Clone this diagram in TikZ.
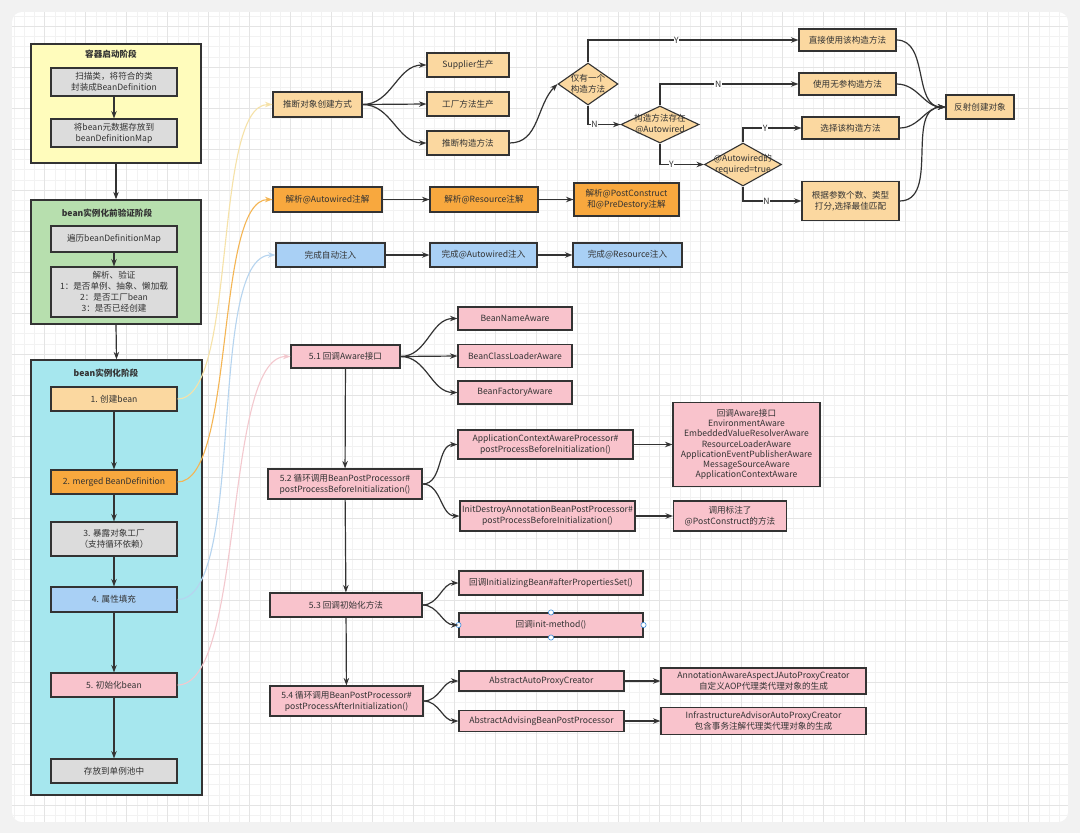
\documentclass[tikz,border=0pt]{standalone}
\usepackage{fontspec}
\setmainfont{Noto Sans CJK SC}
\usepackage{tikz}
\usetikzlibrary{positioning,arrows.meta,shapes.geometric}
\definecolor{ink}{HTML}{333333}
\definecolor{pagebg}{HTML}{F2F2F2}
\definecolor{gridfine}{HTML}{F2F2F2}
\definecolor{gridbold}{HTML}{E4E4E4}
\definecolor{stageyel}{HTML}{FFFCBC}
\definecolor{stagegrn}{HTML}{B7DFAE}
\definecolor{stagecyan}{HTML}{A6E7EE}
\definecolor{cgrey}{HTML}{DCDCDC}
\definecolor{cpeach}{HTML}{FBD8A0}
\definecolor{corange}{HTML}{F8A83E}
\definecolor{cblue}{HTML}{A9D0F5}
\definecolor{cpink}{HTML}{F9C3CC}
\definecolor{linkyel}{HTML}{F6E2A8}
\definecolor{linkorg}{HTML}{F4B553}
\definecolor{linkblu}{HTML}{B6D4EF}
\definecolor{linkpnk}{HTML}{F3C8CE}
\definecolor{chandle}{HTML}{3D8BD9}

\begin{document}
\begin{tikzpicture}[x=1pt,y=-1pt,
  font=\fontsize{8.6}{11}\selectfont,
  box/.style={draw=ink,line width=1.1pt,align=center,inner sep=1pt,text=ink},
  stage/.style={box,line width=1.3pt},
  greybox/.style={box,fill=cgrey},
  peachbox/.style={box,fill=cpeach},
  orangebox/.style={box,fill=corange},
  bluebox/.style={box,fill=cblue},
  pinkbox/.style={box,fill=cpink},
  dia/.style={shape=diamond,draw=ink,line width=1.1pt,fill=cpeach,inner sep=0pt},
  title/.style={font=\fontsize{8.6}{11}\selectfont\bfseries,text=ink},
  arr/.style={-{Stealth[length=7.5pt,width=5.5pt]},line width=1.2pt,draw=ink},
  link/.style={-{Stealth[length=7.5pt,width=5.5pt]},line width=1.1pt,out=0,in=180,looseness=0.5},
  yn/.style={fill=white,inner sep=0.6pt,text=ink}]
  \useasboundingbox (0,0) rectangle (1080,833);
  % page and grid
  \fill[pagebg] (0,0) rectangle (1080,833);
  \fill[black!5,rounded corners=11pt] (10,11) rectangle (1071,825);
  \begin{scope}
    \clip[rounded corners=10pt] (12,12) rectangle (1068,822);
    \fill[white] (12,12) rectangle (1068,822);
    \foreach \gx in {0,...,104} \draw[gridfine,line width=0.5pt] ({3.7+10.25*\gx},12) -- ++(0,810);
    \foreach \gy in {0,...,79} \draw[gridfine,line width=0.5pt] (12,{5.5+10.25*\gy}) -- ++(1056,0);
    \foreach \gx in {0,...,26} \draw[gridbold,line width=0.6pt] ({3.7+41*\gx},12) -- ++(0,810);
    \foreach \gy in {0,...,21} \draw[gridbold,line width=0.6pt] (12,{-15+41*\gy}) -- ++(1056,0);
  \end{scope}

  % left column: the three stages
  \node[stage,fill=stageyel,minimum width=170pt,minimum height=119pt] (start) at (116,103.5) {};
  \node[title] (startT) at (111,54) {容器启动阶段};
  \node[greybox,minimum width=126pt,minimum height=28pt] (scan) at (114,82) {扫描类，将符合的类\\封装成BeanDefinition};
  \node[greybox,minimum width=126pt,minimum height=28pt] (store) at (114,133) {将bean元数据存放到\\beanDefinitionMap};
  \node[stage,fill=stagegrn,minimum width=170pt,minimum height=124pt] (check) at (116,262) {};
  \node[title] (checkT) at (107,213) {bean实例化前验证阶段};
  \node[greybox,minimum width=126pt,minimum height=26pt] (walk) at (114,239) {遍历beanDefinitionMap};
  \node[greybox,minimum width=126pt,minimum height=50pt] (verify) at (114,292) {解析、验证\\1：是否单例、抽象、懒加载\\2：是否工厂bean\\3：是否已经创建};
  \node[stage,fill=stagecyan,minimum width=171pt,minimum height=435pt] (inst) at (116.5,577.5) {};
  \node[title] (instT) at (106,373) {bean实例化阶段};
  \node[peachbox,minimum width=126pt,minimum height=24pt] (create) at (114,399) {1. 创建bean};
  \node[orangebox,minimum width=126pt,minimum height=24pt] (merge) at (114,482) {2. merged BeanDefinition};
  \node[greybox,minimum width=126pt,minimum height=34pt] (expose) at (114,539) {3. 暴露对象工厂\\（支持循环依赖）};
  \node[bluebox,minimum width=126pt,minimum height=25pt] (populate) at (114,599.5) {4. 属性填充};
  \node[pinkbox,minimum width=126pt,minimum height=24pt] (init) at (114,685) {5. 初始化bean};
  \node[greybox,minimum width=126pt,minimum height=24pt] (pool) at (114,771) {存放到单例池中};

  % 1. create bean
  \node[peachbox,minimum width=89pt,minimum height=25pt] (infer) at (317.5,104.5) {推断对象创建方式};
  \node[peachbox,minimum width=82pt,minimum height=24pt] (supplier) at (468,65) {Supplier生产};
  \node[peachbox,minimum width=82pt,minimum height=24pt] (factory) at (468,104) {工厂方法生产};
  \node[peachbox,minimum width=82pt,minimum height=24pt] (ctor) at (468,143) {推断构造方法};
  \node[dia,minimum width=60pt,minimum height=42pt] (only) at (588,84) {};
  \node[align=center,text=ink] (onlyT) at (only) {仅有一个\\构造方法};
  \node[dia,minimum width=78pt,minimum height=37pt] (hasAuto) at (660,124.5) {};
  \node[align=center,text=ink] (hasAutoT) at (hasAuto) {构造方法存在\\@Autowired};
  \node[dia,minimum width=77pt,minimum height=43pt] (req) at (743,164.5) {};
  \node[align=center,text=ink] (reqT) at (req) {@Autowired的\\required=true};
  \node[peachbox,minimum width=97pt,minimum height=22pt] (direct) at (847.5,40) {直接使用该构造方法};
  \node[peachbox,minimum width=97pt,minimum height=22pt] (noarg) at (847.5,84) {使用无参构造方法};
  \node[peachbox,minimum width=97pt,minimum height=22pt] (choose) at (850.5,128) {选择该构造方法};
  \node[peachbox,minimum width=97pt,minimum height=39pt] (score) at (850.5,201) {根据参数个数、类型\\打分,选择最佳匹配};
  \node[peachbox,minimum width=68pt,minimum height=24pt] (reflect) at (980,107) {反射创建对象};

  % 2. merged bean definition
  \node[orangebox,minimum width=109pt,minimum height=25pt] (parseAuto) at (327.5,199.5) {解析@Autowired注解};
  \node[orangebox,minimum width=108pt,minimum height=25pt] (parseRes) at (484,199.5) {解析@Resource注解};
  \node[orangebox,minimum width=105pt,minimum height=33pt] (parsePost) at (626.5,199.5) {解析@PostConstruct\\和@PreDestory注解};

  % 4. populate
  \node[bluebox,minimum width=109pt,minimum height=24pt] (injAuto) at (330.5,255) {完成自动注入};
  \node[bluebox,minimum width=107pt,minimum height=24pt] (injAw) at (483.5,255) {完成@Autowired注入};
  \node[bluebox,minimum width=109pt,minimum height=24pt] (injRes) at (627.5,255) {完成@Resource注入};

  % 5. init bean
  \node[pinkbox,minimum width=109pt,minimum height=23pt] (aware) at (345.5,356.5) {5.1 回调Aware接口};
  \node[pinkbox,minimum width=114pt,minimum height=23pt] (nameAw) at (515,318.5) {BeanNameAware};
  \node[pinkbox,minimum width=114pt,minimum height=23pt] (classAw) at (515,356) {BeanClassLoaderAware};
  \node[pinkbox,minimum width=114pt,minimum height=23pt] (factAw) at (515,392.5) {BeanFactoryAware};
  \node[pinkbox,minimum width=154pt,minimum height=30pt] (bpp) at (345,484) {5.2 循环调用BeanPostProcessor\#\\postProcessBeforeInitialization()};
  \node[pinkbox,minimum width=175pt,minimum height=29pt] (acap) at (545.5,444.5) {ApplicationContextAwareProcessor\#\\postProcessBeforeInitialization()};
  \node[pinkbox,minimum width=175pt,minimum height=30pt] (idap) at (547.5,516) {InitDestroyAnnotationBeanPostProcessor\#\\postProcessBeforeInitialization()};
  \node[pinkbox,minimum width=147pt,minimum height=84pt,font=\fontsize{8.6}{10.2}\selectfont] (awareList) at (746.5,444.5) {回调Aware接口\\EnvironmentAware\\EmbeddedValueResolverAware\\ResourceLoaderAware\\ApplicationEventPublisherAware\\MessageSourceAware\\ApplicationContextAware};
  \node[pinkbox,minimum width=113pt,minimum height=30pt] (postCall) at (730,516) {调用标注了\\@PostConstruct的方法};
  \node[pinkbox,minimum width=152pt,minimum height=24pt] (initM) at (346,605) {5.3 回调初始化方法};
  \node[pinkbox,minimum width=184pt,minimum height=24pt] (afterProp) at (551,583) {回调InitializingBean\#afterPropertiesSet()};
  \node[pinkbox,minimum width=184pt,minimum height=24pt] (initMethod) at (551,625) {回调init-method()};
  \node[pinkbox,minimum width=153pt,minimum height=30pt] (bppAfter) at (346.5,701) {5.4 循环调用BeanPostProcessor\#\\postProcessAfterInitialization()};
  \node[pinkbox,minimum width=165pt,minimum height=20pt] (aapc) at (541.5,681) {AbstractAutoProxyCreator};
  \node[pinkbox,minimum width=165pt,minimum height=21pt] (aabpp) at (541.5,721) {AbstractAdvisingBeanPostProcessor};
  \node[pinkbox,minimum width=205pt,minimum height=26pt] (annAware) at (763.5,681) {AnnotationAwareAspectJAutoProxyCreator\\自定义AOP代理类代理对象的生成};
  \node[pinkbox,minimum width=205pt,minimum height=27pt] (infra) at (763.5,721) {InfrastructureAdvisorAutoProxyCreator\\包含事务注解代理类代理对象的生成};
  \foreach \a in {north,south,east,west}
    \draw[chandle,fill=white,line width=0.6pt] (initMethod.\a) circle (2.6pt);

  % stage arrows
  \draw[arr] (scan) -- (store);
  \draw[arr] (start.south) -- (check.north);
  \draw[arr] (walk) -- (verify);
  \draw[arr] (check.south) -- (inst.north);
  \draw[arr] (create) -- (merge);
  \draw[arr] (merge) -- (expose);
  \draw[arr] (expose) -- (populate);
  \draw[arr] (populate) -- (init);
  \draw[arr] (init) -- (pool);

  % links out of the instantiation stage
  \draw[link,color=linkyel] (create.east) to (infer.west);
  \draw[link,color=linkorg] (merge.east) to (parseAuto.west);
  \draw[link,color=linkblu] (populate.east) to (injAuto.west);
  \draw[link,color=linkpnk] (init.east) to (aware.west);

  % constructor inference
  \draw[arr] (infer.east) to[out=0,in=180] (supplier.west);
  \draw[arr] (infer.east) -- (factory.west);
  \draw[arr] (infer.east) to[out=0,in=180] (ctor.west);
  \draw[arr] (ctor.east) to[out=0,in=225] (only.west);
  \draw[arr] (only.north) |- node[yn,pos=0.71]{Y} (direct.west);
  \draw[arr] (only.south) |- node[yn,pos=0.6]{N} (hasAuto.west);
  \draw[arr] (hasAuto.north) |- node[yn,pos=0.71]{N} (noarg.west);
  \draw[arr] (hasAuto.south) |- node[yn,pos=0.63]{Y} (req.west);
  \draw[arr] (req.north) |- node[yn,pos=0.69]{Y} (choose.west);
  \draw[arr] (req.south) |- node[yn,pos=0.7]{N} (score.west);
  \foreach \src in {direct,noarg,choose,score}
    \draw[arr] (\src.east) to[out=0,in=180] (reflect.west);

  % annotation parsing and injection
  \draw[arr] (parseAuto) -- (parseRes);
  \draw[arr] (parseRes) -- (parsePost);
  \draw[arr] (injAuto) -- (injAw);
  \draw[arr] (injAw) -- (injRes);

  % initialisation
  \draw[arr] (aware.east) to[out=0,in=180] (nameAw.west);
  \draw[arr] (aware.east) -- (classAw.west);
  \draw[arr] (aware.east) to[out=0,in=180] (factAw.west);
  \draw[arr] (aware) -- (bpp);
  \draw[arr] (bpp.east) to[out=0,in=180] (acap.west);
  \draw[arr] (bpp.east) to[out=0,in=180] (idap.west);
  \draw[arr] (acap) -- (awareList);
  \draw[arr] (idap) -- (postCall);
  \draw[arr] (bpp) -- (initM);
  \draw[arr] (initM.east) to[out=0,in=180] (afterProp.west);
  \draw[arr] (initM.east) to[out=0,in=180] (initMethod.west);
  \draw[arr] (initM) -- (bppAfter);
  \draw[arr] (bppAfter.east) to[out=0,in=180] (aapc.west);
  \draw[arr] (bppAfter.east) to[out=0,in=180] (aabpp.west);
  \draw[arr] (aapc) -- (annAware);
  \draw[arr] (aabpp) -- (infra);
\end{tikzpicture}
\end{document}
